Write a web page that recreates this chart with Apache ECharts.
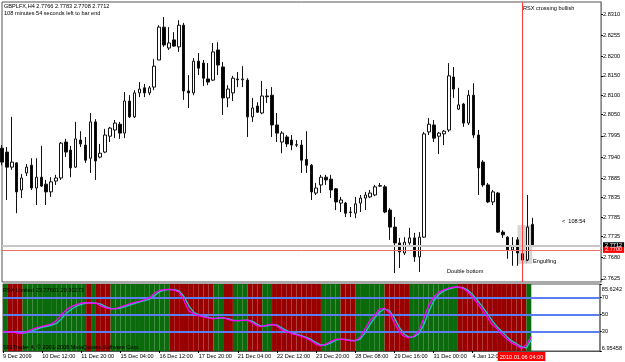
<!DOCTYPE html>
<html><head><meta charset="utf-8">
<script src="https://cdn.jsdelivr.net/npm/echarts@6/dist/echarts.min.js"></script>
<style>html,body{margin:0;padding:0;background:#fff}#c{width:625px;height:362px}</style>
</head><body><div id="c"></div>
<script>
// ---- data ----
const opens  = [2.7963,2.7953,2.7914,2.7925,2.7855,2.7899,2.7919,2.7860,2.7888,2.7870,2.7850,2.7878,2.7886,2.7979,2.7958,2.7914,2.7984,2.7971,2.7937,2.8031,2.7940,2.7953,2.7994,2.8010,2.8025,2.8002,2.8085,2.8044,2.8106,2.8119,2.8106,2.8121,2.8191,2.8276,2.8222,2.8243,2.8225,2.8281,2.8111,2.8106,2.8188,2.8183,2.8142,2.8139,2.8217,2.8173,2.8093,2.8106,2.8142,2.8140,2.8139,2.8044,2.8072,2.8054,2.8098,2.8100,2.8023,2.7979,2.7992,2.7984,2.7972,2.7971,2.7934,2.7919,2.7847,2.7868,2.7888,2.7883,2.7858,2.7821,2.7821,2.7798,2.7795,2.7821,2.7834,2.7837,2.7842,2.7865,2.7863,2.7803,2.7759,2.7718,2.7692,2.7718,2.7731,2.7682,2.7733,2.8005,2.8023,2.7994,2.8000,2.8010,2.8147,2.8064,2.8077,2.8028,2.8100,2.7997,2.7927,2.7868,2.7824,2.7847,2.7746,2.7733,2.7700,2.7726,2.7690,2.7674,2.7766];
const highs  = [2.7971,2.7966,2.8044,2.7927,2.7896,2.7922,2.7937,2.7937,2.7969,2.7881,2.7888,2.7894,2.7979,2.7987,2.7969,2.8031,2.8007,2.7992,2.8054,2.8038,2.7974,2.8013,2.8018,2.8036,2.8031,2.8108,2.8100,2.8113,2.8134,2.8129,2.8124,2.8193,2.8281,2.8302,2.8276,2.8263,2.8294,2.8287,2.8152,2.8196,2.8209,2.8191,2.8183,2.8235,2.8237,2.8186,2.8126,2.8150,2.8160,2.8175,2.8144,2.8093,2.8082,2.8137,2.8116,2.8121,2.8054,2.8007,2.7997,2.7997,2.7984,2.7984,2.8007,2.7922,2.7873,2.7894,2.7894,2.7894,2.7860,2.7837,2.7824,2.7811,2.7837,2.7842,2.7850,2.7855,2.7868,2.7873,2.7868,2.7808,2.7785,2.7731,2.7733,2.7757,2.7744,2.7746,2.8005,2.8041,2.8036,2.8005,2.8010,2.8183,2.8173,2.8119,2.8080,2.8113,2.8131,2.8010,2.7932,2.7873,2.7855,2.7850,2.7751,2.7735,2.7733,2.7733,2.7695,2.7842,2.7783];
const lows   = [2.7919,2.7829,2.7907,2.7795,2.7834,2.7891,2.7855,2.7816,2.7863,2.7816,2.7837,2.7868,2.7881,2.7940,2.7888,2.7912,2.7966,2.7925,2.7899,2.7881,2.7937,2.7950,2.7979,2.7989,2.7987,2.7989,2.8041,2.8041,2.8095,2.8095,2.8100,2.8113,2.8191,2.8225,2.8217,2.8225,2.8212,2.8088,2.8067,2.8100,2.8152,2.8124,2.8126,2.8137,2.8152,2.8049,2.8069,2.8085,2.8121,2.8121,2.7992,2.8031,2.8054,2.8051,2.8080,2.7992,2.7979,2.7950,2.7966,2.7958,2.7966,2.7899,2.7899,2.7829,2.7842,2.7847,2.7868,2.7834,2.7803,2.7798,2.7785,2.7785,2.7782,2.7798,2.7803,2.7834,2.7839,2.7863,2.7795,2.7726,2.7640,2.7653,2.7687,2.7713,2.7669,2.7643,2.7731,2.7997,2.7979,2.7948,2.7971,2.8005,2.8093,2.8062,2.8018,2.8023,2.7989,2.7842,2.7863,2.7821,2.7816,2.7744,2.7731,2.7677,2.7659,2.7659,2.7666,2.7671,2.7708];
const closes = [2.7927,2.7914,2.7927,2.7850,2.7886,2.7914,2.7860,2.7888,2.7865,2.7850,2.7876,2.7886,2.7976,2.7953,2.7912,2.7987,2.7974,2.7932,2.8031,2.7930,2.7950,2.7997,2.8015,2.8028,2.8002,2.8085,2.8044,2.8106,2.8116,2.8106,2.8119,2.8175,2.8276,2.8230,2.8235,2.8227,2.8281,2.8111,2.8106,2.8188,2.8170,2.8144,2.8134,2.8212,2.8178,2.8093,2.8116,2.8144,2.8140,2.8142,2.8044,2.8067,2.8056,2.8098,2.8096,2.8023,2.8002,2.8002,2.7974,2.7971,2.7971,2.7932,2.7919,2.7850,2.7860,2.7888,2.7881,2.7855,2.7824,2.7829,2.7795,2.7797,2.7819,2.7834,2.7842,2.7847,2.7863,2.7866,2.7798,2.7759,2.7718,2.7695,2.7720,2.7731,2.7682,2.7733,2.8000,2.8025,2.7989,2.8002,2.8007,2.8150,2.8116,2.8075,2.8028,2.8100,2.7997,2.7912,2.7868,2.7824,2.7850,2.7746,2.7739,2.7700,2.7708,2.7692,2.7674,2.7759,2.7712];

const rsx    = [29.8,29.5,29.0,28.0,27.8,30.0,32.5,34.5,36.0,37.2,38.8,43.0,50.0,55.5,59.0,61.5,63.3,63.8,63.0,63.2,60.0,57.5,56.3,56.8,58.5,60.5,62.5,64.0,65.5,67.3,69.5,75.0,78.0,79.0,79.3,78.5,76.0,66.0,54.0,50.5,48.5,47.0,45.8,44.8,45.8,46.0,44.0,42.5,42.6,43.0,43.2,40.0,36.5,35.5,37.5,38.2,36.5,32.0,29.5,27.5,25.8,24.0,22.0,19.0,15.0,13.0,15.0,18.0,20.5,21.0,20.0,19.2,18.8,23.0,33.0,42.5,49.0,56.0,57.0,52.0,40.0,30.0,24.0,22.5,24.5,30.0,45.0,60.0,70.0,75.5,78.5,80.5,81.8,82.3,80.5,76.5,70.0,63.0,55.0,47.0,38.0,33.0,26.5,21.0,16.5,13.5,10.0,14.5,23.77601];
const signal = [30.0,29.8,29.5,28.9,28.0,28.6,30.5,32.8,34.6,36.0,37.3,39.5,45.0,51.5,56.0,59.5,61.8,63.2,63.6,63.1,62.0,59.0,57.0,56.5,57.3,59.0,61.2,63.0,64.6,66.2,68.0,72.0,76.5,78.6,79.2,79.0,77.5,71.0,60.0,52.5,49.5,47.8,46.4,45.3,45.2,45.9,45.0,43.2,42.5,42.8,43.1,41.8,38.3,36.0,36.5,37.8,37.4,34.3,30.8,28.5,26.7,24.9,23.0,20.5,17.0,14.0,14.0,16.5,19.3,20.8,20.5,19.6,19.0,20.9,28.0,37.8,45.8,52.5,56.5,54.5,46.0,35.0,27.0,23.2,23.5,27.2,37.5,52.5,65.0,72.8,77.0,79.5,81.2,82.0,81.4,78.5,73.2,66.5,59.0,51.0,42.5,35.5,29.8,23.8,18.8,15.5,12.0,10.5,20.30273];
// 1 = rising (green histogram), 0 = falling (red)
const trend  = [1,1,0,0,0,1,1,1,1,1,1,1,1,1,1,1,1,1,0,1,0,0,0,1,1,1,1,1,1,1,1,1,1,1,1,0,0,0,0,0,0,0,0,0,1,1,0,0,1,1,1,0,0,0,1,1,0,0,0,0,0,0,0,0,0,0,1,1,1,1,0,0,0,1,1,1,1,1,1,0,0,0,0,0,1,1,1,1,1,1,1,1,1,1,0,0,0,0,0,0,0,0,0,0,0,0,0,0,1];

const dateLabels = ['9 Dec 2009','10 Dec 12:00','11 Dec 20:00','15 Dec 04:00','16 Dec 12:00','17 Dec 20:00','21 Dec 04:00','22 Dec 12:00','23 Dec 20:00','28 Dec 08:00','29 Dec 16:00','31 Dec 00:00','4 Jan 12:00'];
const labelEvery = 8;
const priceTicks = [2.8310,2.8255,2.8200,2.8150,2.8100,2.8050,2.7995,2.7940,2.7885,2.7835,2.7785,2.7735,2.7680,2.7625];
const rsxTicks = [85.6242,70,50,30,6.95458];
const rsxLevels = [70,50,30];
const totalSlots = 123;
const markedBar = 106;
const markedTime = '2010.01.06 04:00';
const bidPrice = 2.7712, linePrice = 2.7700;
const engulf = {from: 105, to: 108, top: 2.7764, bottom: 2.7664};

// ---- chart ----
const categories = Array.from({length: totalSlots}, (_, i) => String(i));
const candles = opens.map((o, i) => [o, closes[i], lows[i], highs[i]]);
const FONT = 'Liberation Sans';
const FS = 5.6;
const GREEN = '#0b6a0b', RED = '#990000';
const RMIN = 6.95458, RMAX = 85.6242;

const chart = echarts.init(document.getElementById('c'), null, {renderer: 'canvas'});
const txt = (text, x, y, extra) => Object.assign({type: 'text', silent: true, z: 100,
  style: Object.assign({text, x, y, fill: '#000', fontSize: FS, fontFamily: FONT, verticalAlign: 'middle'}, extra || {})});
const priceTag = (bg) => ({show: true, position: 'end', backgroundColor: bg, color: '#fff', fontSize: FS,
  lineHeight: 6, padding: [0, 2, 0, 2], distance: 2, fontFamily: FONT});

chart.setOption({
  animation: false,
  backgroundColor: '#fff',
  textStyle: {fontFamily: FONT},
  grid: [
    {left: 2, top: 2, width: 599, height: 280, show: true, borderColor: '#555', borderWidth: 1},
    {left: 2, top: 284, width: 599, height: 67, show: true, borderColor: '#555', borderWidth: 1}
  ],
  xAxis: [
    {type: 'category', gridIndex: 0, data: categories, boundaryGap: false,
     axisLine: {show: false}, axisTick: {show: false}, axisLabel: {show: false}, splitLine: {show: false}},
    {type: 'category', gridIndex: 1, data: categories, boundaryGap: false,
     axisLine: {show: true, lineStyle: {color: '#555'}},
     axisTick: {show: true, length: 2, interval: (i) => i % labelEvery === 0 && i / labelEvery < dateLabels.length, lineStyle: {color: '#000'}},
     axisLabel: {show: true, interval: (i) => i % labelEvery === 0 && i / labelEvery < dateLabels.length,
       formatter: (v, i) => dateLabels[i / labelEvery] || '', align: 'left', fontSize: FS, color: '#000', margin: 2, fontFamily: FONT},
     splitLine: {show: false}}
  ],
  yAxis: [
    {type: 'value', gridIndex: 0, position: 'right', min: 2.7617, max: 2.8341, scale: true,
     axisLine: {show: true, lineStyle: {color: '#888'}},
     axisTick: {show: true, customValues: priceTicks, length: 2, lineStyle: {color: '#000'}},
     axisLabel: {customValues: priceTicks, formatter: v => v.toFixed(4), fontSize: FS, color: '#000', margin: 2, fontFamily: FONT},
     splitLine: {show: false}},
    {type: 'value', gridIndex: 1, position: 'right', min: RMIN, max: RMAX,
     axisLine: {show: true, lineStyle: {color: '#888'}},
     axisTick: {show: true, customValues: rsxTicks, length: 2, lineStyle: {color: '#000'}},
     axisLabel: {customValues: rsxTicks, fontSize: FS, color: '#000', margin: 2, fontFamily: FONT,
       formatter: v => v === RMAX ? '{t|' + v + '}' : (v === RMIN ? '{b|' + v + '}' : String(v)),
       rich: {t: {padding: [11, 0, 0, 0], fontSize: FS, fontFamily: FONT, color: '#000'},
              b: {padding: [0, 0, 6, 0], fontSize: FS, fontFamily: FONT, color: '#000'}}},
     splitLine: {show: false}}
  ],
  series: [
    {type: 'candlestick', xAxisIndex: 0, yAxisIndex: 0, data: candles, barWidth: 3, z: 3,
     itemStyle: {color: '#fff', color0: '#000', borderColor: '#111', borderColor0: '#111', borderWidth: 1},
     markArea: {silent: true, itemStyle: {color: '#d6d6d6'},
       data: [[{xAxis: engulf.from, yAxis: engulf.top}, {xAxis: engulf.to, yAxis: engulf.bottom}]]},
     markLine: {silent: true, symbol: 'none', animation: false, precision: 4, data: [
       {yAxis: bidPrice, lineStyle: {color: '#c8c8c8', width: 2, type: 'solid'},
        label: Object.assign(priceTag('#000000'), {formatter: bidPrice.toFixed(4)})},
       {yAxis: linePrice, lineStyle: {color: '#f07070', width: 1, type: 'solid'},
        label: Object.assign(priceTag('#ff0000'), {formatter: linePrice.toFixed(4)})},
       {xAxis: markedBar, lineStyle: {color: '#ff3b3b', width: 1, type: 'solid'}, label: {show: false}}
     ]}},
    {type: 'custom', xAxisIndex: 1, yAxisIndex: 1, z: 1, clip: true,
     data: trend.map((s, i) => [i, s]),
     renderItem: (params, api) => {
       const i = api.value(0);
       const cs = params.coordSys;
       const x1 = Math.max(api.coord([i - 1, RMAX])[0], cs.x);
       const x2 = api.coord([i, RMAX])[0];
       if (x2 <= x1) return null;
       return {type: 'rect', shape: {x: x1, y: cs.y, width: x2 - x1, height: cs.height},
         style: {fill: api.value(1) ? GREEN : RED}};
     },
     markLine: {silent: true, symbol: 'none', animation: false, precision: 2,
       lineStyle: {color: '#5a7ef0', width: 2, type: 'solid'}, label: {show: false},
       data: rsxLevels.map(v => ({yAxis: v}))}},
    {type: 'line', xAxisIndex: 1, yAxisIndex: 1, data: signal, symbol: 'none', z: 4,
     lineStyle: {color: '#22c8c8', width: 1.3}},
    {type: 'line', xAxisIndex: 1, yAxisIndex: 1, data: rsx, symbol: 'none', z: 5,
     lineStyle: {color: '#ff00ff', width: 1.3},
     markLine: {silent: true, symbol: 'none', animation: false, data: [
       {xAxis: markedBar, lineStyle: {color: '#ff3b3b', width: 1, type: 'solid'},
        label: {show: true, position: 'start', formatter: markedTime, backgroundColor: '#ff0000', color: '#fff', fontSize: FS, padding: [2, 2, 1, 2], distance: 1, fontFamily: FONT}}
     ]}}
  ],
  graphic: [
    txt('GBPLFX,H4 2.7766 2.7783 2.7708 2.7712', 4, 6.5),
    txt('108 minutes 54 seconds left to bar end', 4, 13.5),
    txt('RSX crossing bullish', 523, 8),
    txt('<  108:54', 562, 221),
    txt('Double bottom', 447, 271),
    txt('\u2191', 525, 261),
    txt('Engulfing', 533, 261),
    txt('RSX Limited 23.77601 20.30273', 3, 290),
    txt('SIGTrader 4, \u00a9 2001-2008 MetaQuotes Software Corp.', 3, 347)
  ]
});
</script></body></html>
